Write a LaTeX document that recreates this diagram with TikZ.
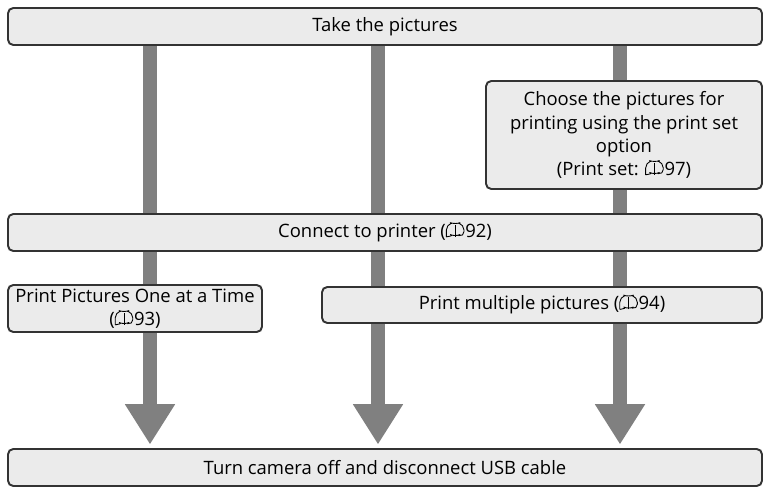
\documentclass[tikz,border=0pt]{standalone}
\usepackage{fontspec}
\setmainfont{Open Sans}
\usetikzlibrary{arrows.meta}
\pgfdeclarelayer{background}
\pgfsetlayers{background,main}
\newcommand{\bookref}{\tikz[x=1pt,y=1pt,baseline=-0.3pt,line width=0.5pt,line join=round]{%
  \draw (0,0) -- (0,7) .. controls (2,7.6) and (4,7.4) .. (5,7)
        .. controls (6,7.4) and (8,7.6) .. (10,7) -- (10,0)
        .. controls (8,0.5) and (6,0.5) .. (5,0)
        .. controls (4,0.5) and (2,0.5) .. (0,0);
  \draw (5,0) -- (5,7);}\hspace{0.5pt}}

\begin{document}
\begin{tikzpicture}[x=0.02cm,y=-0.02cm,
                    every node/.style={font=\fontsize{10.5}{13.2}\selectfont},
                    step box/.style={draw=black!80,line width=1.1pt,fill=black!8,
                      rounded corners=3pt,align=center,inner sep=0pt},
                    flow/.style={draw=black!50,line width=7.9pt,
                      -{Triangle[width=27pt,length=23pt]}}]
  \useasboundingbox (0,0) rectangle (770,503);
  \node[step box,minimum width=754*0.02cm,minimum height=37*0.02cm] (take) at (385,26.5) {Take the pictures};
  \node[step box,minimum width=276*0.02cm,minimum height=108*0.02cm] (choose) at (624,135)
    {Choose the pictures for\\printing using the print set\\option\\(Print set: \bookref97)};
  \node[step box,minimum width=754*0.02cm,minimum height=37*0.02cm] (connect) at (385,232.5) {Connect to printer (\bookref92)};
  \node[step box,minimum width=254*0.02cm,minimum height=47*0.02cm] (single) at (135,308.5)
    {Print Pictures One at a Time\\(\bookref93)};
  \node[step box,minimum width=440*0.02cm,minimum height=36*0.02cm] (multi) at (542,305) {Print multiple pictures (\bookref94)};
  \node[step box,minimum width=754*0.02cm,minimum height=37*0.02cm] (off) at (385,467.5) {Turn camera off and disconnect USB cable};
  \coordinate (c1) at (150,0);
  \coordinate (c2) at (378,0);
  \coordinate (c3) at (620,0);
  \begin{pgfonlayer}{background}
    \foreach \c in {c1,c2,c3}
      \draw[flow] (take.south -| \c) -- ([yshift=2pt]off.north -| \c);
  \end{pgfonlayer}
\end{tikzpicture}
\end{document}
